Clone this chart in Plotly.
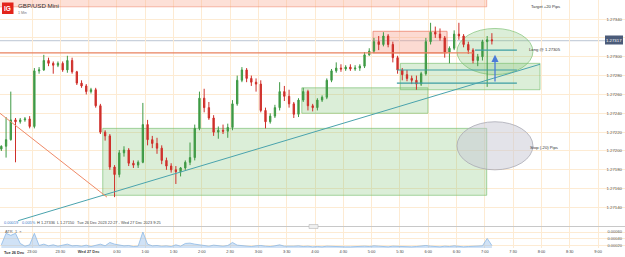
import pandas as pd
import plotly.graph_objects as go

# ---------------- data (5-minute bins) ----------------
bin_start = pd.date_range("2023-12-26 22:25", periods=105, freq="5min")

open_ = [1.27202, 1.27205, 1.27212, 1.27233, 1.27231, 1.27233, 1.27234, 1.27226, 1.27285, 1.27286,
         1.27296, 1.27293, 1.27291, 1.27293, 1.27286, 1.27296, 1.27284, 1.27272, 1.27269, 1.27263,
         1.27265, 1.27248, 1.27220, 1.27216, 1.27183, 1.27175, 1.27198, 1.27201, 1.27187, 1.27185,
         1.27188, 1.27228, 1.27212, 1.27208, 1.27203, 1.27190, 1.27184, 1.27180, 1.27178, 1.27182,
         1.27188, 1.27193, 1.27224, 1.27256, 1.27246, 1.27235, 1.27220, 1.27222, 1.27221, 1.27225,
         1.27250, 1.27275, 1.27286, 1.27277, 1.27273, 1.27271, 1.27243, 1.27231, 1.27237, 1.27246,
         1.27263, 1.27258, 1.27250, 1.27239, 1.27254, 1.27263, 1.27248, 1.27246, 1.27254, 1.27257,
         1.27275, 1.27285, 1.27288, 1.27287, 1.27289, 1.27287, 1.27288, 1.27290, 1.27302, 1.27306,
         1.27316, 1.27313, 1.27322, 1.27313, 1.27299, 1.27286, 1.27281, 1.27277, 1.27275, 1.27271,
         1.27282, 1.27316, 1.27326, 1.27324, 1.27320, 1.27305, 1.27309, 1.27324, 1.27322, 1.27313,
         1.27307, 1.27296, 1.27300, 1.27316, 1.27318]
high = [1.27206, 1.27236, 1.27263, 1.27235, 1.27235, 1.27236, 1.27237, 1.27288, 1.27289, 1.27302,
        1.27299, 1.27295, 1.27295, 1.27295, 1.27301, 1.27299, 1.27285, 1.27275, 1.27271, 1.27267,
        1.27267, 1.27250, 1.27222, 1.27218, 1.27185, 1.27201, 1.27205, 1.27203, 1.27190, 1.27190,
        1.27251, 1.27233, 1.27216, 1.27214, 1.27206, 1.27193, 1.27187, 1.27184, 1.27183, 1.27190,
        1.27209, 1.27228, 1.27263, 1.27266, 1.27252, 1.27238, 1.27226, 1.27228, 1.27229, 1.27254,
        1.27280, 1.27289, 1.27288, 1.27280, 1.27277, 1.27275, 1.27246, 1.27240, 1.27249, 1.27273,
        1.27269, 1.27265, 1.27252, 1.27256, 1.27267, 1.27265, 1.27250, 1.27256, 1.27259, 1.27277,
        1.27287, 1.27294, 1.27292, 1.27291, 1.27292, 1.27291, 1.27292, 1.27305, 1.27309, 1.27320,
        1.27322, 1.27326, 1.27324, 1.27316, 1.27301, 1.27288, 1.27286, 1.27280, 1.27280, 1.27284,
        1.27320, 1.27336, 1.27332, 1.27330, 1.27322, 1.27311, 1.27328, 1.27336, 1.27324, 1.27316,
        1.27309, 1.27303, 1.27318, 1.27322, 1.27325]
low = [1.27200, 1.27193, 1.27211, 1.27188, 1.27229, 1.27231, 1.27224, 1.27224, 1.27282, 1.27285,
       1.27290, 1.27282, 1.27289, 1.27284, 1.27283, 1.27282, 1.27270, 1.27267, 1.27260, 1.27261,
       1.27246, 1.27218, 1.27211, 1.27180, 1.27151, 1.27172, 1.27194, 1.27184, 1.27182, 1.27182,
       1.27187, 1.27206, 1.27203, 1.27197, 1.27186, 1.27180, 1.27177, 1.27165, 1.27173, 1.27180,
       1.27185, 1.27190, 1.27222, 1.27241, 1.27233, 1.27216, 1.27213, 1.27218, 1.27214, 1.27222,
       1.27248, 1.27273, 1.27273, 1.27269, 1.27263, 1.27241, 1.27224, 1.27229, 1.27235, 1.27243,
       1.27253, 1.27246, 1.27235, 1.27236, 1.27252, 1.27243, 1.27242, 1.27243, 1.27252, 1.27255,
       1.27273, 1.27283, 1.27284, 1.27285, 1.27285, 1.27285, 1.27285, 1.27288, 1.27301, 1.27304,
       1.27307, 1.27311, 1.27310, 1.27294, 1.27282, 1.27275, 1.27274, 1.27271, 1.27265, 1.27269,
       1.27280, 1.27313, 1.27320, 1.27317, 1.27299, 1.27293, 1.27307, 1.27318, 1.27310, 1.27303,
       1.27293, 1.27290, 1.27296, 1.27268, 1.27313]
close = [1.27205, 1.27212, 1.27233, 1.27231, 1.27233, 1.27234, 1.27226, 1.27285, 1.27286, 1.27296,
         1.27293, 1.27291, 1.27293, 1.27286, 1.27296, 1.27284, 1.27272, 1.27269, 1.27263, 1.27265,
         1.27248, 1.27220, 1.27216, 1.27183, 1.27175, 1.27198, 1.27201, 1.27187, 1.27185, 1.27188,
         1.27228, 1.27212, 1.27208, 1.27203, 1.27190, 1.27184, 1.27180, 1.27178, 1.27182, 1.27188,
         1.27193, 1.27224, 1.27256, 1.27246, 1.27235, 1.27220, 1.27222, 1.27221, 1.27225, 1.27250,
         1.27275, 1.27286, 1.27277, 1.27273, 1.27271, 1.27243, 1.27231, 1.27237, 1.27246, 1.27263,
         1.27258, 1.27250, 1.27239, 1.27254, 1.27263, 1.27248, 1.27246, 1.27254, 1.27257, 1.27275,
         1.27285, 1.27288, 1.27287, 1.27289, 1.27287, 1.27288, 1.27290, 1.27302, 1.27306, 1.27316,
         1.27313, 1.27322, 1.27313, 1.27299, 1.27286, 1.27281, 1.27277, 1.27275, 1.27271, 1.27282,
         1.27316, 1.27326, 1.27324, 1.27320, 1.27305, 1.27309, 1.27324, 1.27322, 1.27313, 1.27307,
         1.27296, 1.27300, 1.27316, 1.27318, 1.27317]
atr = [0.00022, 0.00056, 0.00050, 0.00056, 0.00026, 0.00018, 0.00022, 0.00056, 0.00020, 0.00024,
       0.00019, 0.00022, 0.00018, 0.00020, 0.00024, 0.00019, 0.00020, 0.00018, 0.00021, 0.00017,
       0.00020, 0.00024, 0.00019, 0.00029, 0.00024, 0.00021, 0.00019, 0.00020, 0.00017, 0.00018,
       0.00060, 0.00024, 0.00019, 0.00020, 0.00018, 0.00019, 0.00017, 0.00022, 0.00018, 0.00026,
       0.00027, 0.00024, 0.00022, 0.00020, 0.00018, 0.00021, 0.00019, 0.00018, 0.00020, 0.00029,
       0.00021, 0.00019, 0.00018, 0.00017, 0.00019, 0.00020, 0.00018, 0.00017, 0.00019, 0.00022,
       0.00018, 0.00017, 0.00018, 0.00019, 0.00017, 0.00018, 0.00016, 0.00017, 0.00016, 0.00018,
       0.00017, 0.00016, 0.00017, 0.00016, 0.00016, 0.00017, 0.00016, 0.00018, 0.00017, 0.00019,
       0.00018, 0.00017, 0.00016, 0.00018, 0.00017, 0.00016, 0.00017, 0.00016, 0.00017, 0.00019,
       0.00020, 0.00018, 0.00017, 0.00016, 0.00018, 0.00017, 0.00019, 0.00017, 0.00016, 0.00017,
       0.00018, 0.00017, 0.00019, 0.00041, 0.00020]

time_ticks = pd.date_range("2023-12-26 23:00", "2023-12-27 09:00", freq="30min")
time_labels = ["23:00", "23:30", "<b>Wed 27 Dec</b>", "0:30", "1:00", "1:30", "2:00", "2:30",
               "3:00", "3:30", "4:00", "4:30", "5:00", "5:30", "6:00", "6:30", "7:00",
               "7:30", "8:00", "8:30", "9:00"]
price_ticks = [1.27140, 1.27160, 1.27180, 1.27200, 1.27220, 1.27240,
               1.27260, 1.27280, 1.27300, 1.27320, 1.27340]
price_labels = ["1.27140", "1.27160", "1.27180", "1.27200", "1.27220", "1.27240",
                "1.27260", "1.27280", "1.27300", "", "1.27340"]
atr_ticks = [0.0002, 0.0004, 0.0006]
atr_labels = ["0.00020", "0.00040", "0.00060"]
last_price = 1.27317

times = bin_start + pd.Timedelta(seconds=150)

W, H = 625, 257
FONT = "Liberation Sans, Arial, sans-serif"
GRID = "#fdebd3"


def px(x):
    return x / W


def py(y):
    return 1 - y / H


fig = go.Figure()
fig.add_trace(go.Candlestick(
    x=times, open=open_, high=high, low=low, close=close,
    increasing=dict(line=dict(color="#3f9a45", width=1), fillcolor="#3f9a45"),
    decreasing=dict(line=dict(color="#cf2f2a", width=1), fillcolor="#cf2f2a"),
    whiskerwidth=0, xaxis="x", yaxis="y", showlegend=False, hoverinfo="skip"))
fig.add_trace(go.Scatter(
    x=times, y=atr, mode="lines", fill="tozeroy",
    line=dict(color="#8db9e6", width=0.8), fillcolor="rgba(150,190,235,0.45)",
    xaxis="x2", yaxis="y2", showlegend=False, hoverinfo="skip"))

t0 = "2023-12-26 22:26:04"
t1 = "2023-12-27 09:28:36"

shapes = []
GFILL = "rgba(125,195,115,0.28)"
GLINE = "rgba(120,190,110,0.65)"
shapes.append(dict(type="rect", xref="x", yref="y", x0="2023-12-26 22:20", x1="2023-12-27 07:02",
                   y0=1.27353, y1=1.27380, fillcolor="rgba(248,165,140,0.35)",
                   line=dict(color="rgba(240,140,115,0.6)", width=1), layer="between"))
shapes.append(dict(type="rect", xref="x", yref="y", x0="2023-12-27 05:01:30", x1="2023-12-27 06:20",
                   y0=1.27304, y1=1.27327, fillcolor="rgba(245,150,125,0.35)",
                   line=dict(color="rgba(235,120,95,0.7)", width=1), layer="between"))
for (a, b, lo, hi) in [("2023-12-27 00:15", "2023-12-27 07:02", 1.27153, 1.27224),
                       ("2023-12-27 03:46", "2023-12-27 05:59:40", 1.27240, 1.27267),
                       ("2023-12-27 05:30:30", "2023-12-27 07:58:30", 1.27265, 1.27293)]:
    shapes.append(dict(type="rect", xref="x", yref="y", x0=a, x1=b, y0=lo, y1=hi,
                       fillcolor=GFILL, line=dict(color=GLINE, width=1), layer="between"))
shapes.append(dict(type="circle", xref="x", yref="y", x0="2023-12-27 06:30:30", x1="2023-12-27 07:51",
                   y0=1.27281, y1=1.27330, fillcolor=GFILL, line=dict(color=GLINE, width=1),
                   layer="between"))
shapes.append(dict(type="circle", xref="x", yref="y", x0="2023-12-27 06:30:30", x1="2023-12-27 07:51",
                   y0=1.27180, y1=1.27231, fillcolor="rgba(200,200,212,0.5)",
                   line=dict(color="rgba(170,170,180,0.8)", width=1), layer="between"))
shapes.append(dict(type="line", xref="x", yref="paper", x0="2023-12-27 00:00", x1="2023-12-27 00:00",
                   y0=py(248), y1=1, line=dict(color="#f7c68e", width=1), layer="between"))
shapes.append(dict(type="line", xref="paper", yref="y", x0=0, x1=px(606), y0=last_price, y1=last_price,
                   line=dict(color="#bcc6d3", width=1), layer="between"))
shapes.append(dict(type="line", xref="x", yref="y", x0="2023-12-26 22:20", x1="2023-12-27 06:47:30",
                   y0=1.27304, y1=1.27304, line=dict(color="#e9825f", width=1.3)))
TEAL = "#3d9ea3"
for (a, yv) in [("2023-12-27 06:49:36", 1.27307), ("2023-12-27 05:26:48", 1.27286),
                ("2023-12-27 05:26:48", 1.27272)]:
    shapes.append(dict(type="line", xref="x", yref="y", x0=a, x1="2023-12-27 07:34",
                       y0=yv, y1=yv, line=dict(color=TEAL, width=1.1)))
shapes.append(dict(type="line", xref="x", yref="y", x0="2023-12-26 22:45:12", y0=1.27126,
                   x1="2023-12-27 07:58:30", y1=1.27292, line=dict(color="#4aa3ad", width=1)))
shapes.append(dict(type="line", xref="x", yref="y", x0="2023-12-26 22:26", y0=1.27240,
                   x1="2023-12-27 00:19:30", y1=1.27151, line=dict(color="#ef8a68", width=1)))
shapes.append(dict(type="line", xref="paper", yref="paper", x0=0, x1=1, y0=py(226.5), y1=py(226.5),
                   line=dict(color="#c8c8c8", width=1)))
shapes.append(dict(type="rect", xref="paper", yref="paper", x0=px(309), x1=px(318),
                   y0=py(228.5), y1=py(224.5), fillcolor="#eeeeee", line=dict(color="#b8b8b8", width=0.6)))
shapes.append(dict(type="rect", xref="paper", yref="paper", x0=px(605), x1=px(623),
                   y0=py(44.5), y1=py(35.5), fillcolor="#4b5b79", line=dict(width=0)))
shapes.append(dict(type="rect", xref="paper", yref="paper", x0=px(2), x1=px(13.5),
                   y0=py(14), y1=py(2.5), fillcolor="#e3241b", line=dict(width=0)))

ann = []


def txt(x, y, s, size=4.2, color="#333", anchor="left", bold=False):
    ann.append(dict(xref="paper", yref="paper", x=px(x), y=py(y), text=("<b>%s</b>" % s) if bold else s,
                    showarrow=False, xanchor=anchor, yanchor="middle",
                    font=dict(family=FONT, size=size, color=color)))


txt(7.8, 8.5, "IG", size=6.5, color="white", anchor="center", bold=True)
txt(15.5, 5.5, "GBP/USD Mini", size=6.2, color="#333")
txt(15.5, 12.5, "1 Min", size=3.6, color="#777")
txt(529, 6, "Target +20 Pips", size=4.2, color="#333")
txt(527, 50, "Long @ 1.27305", size=4.2, color="#333")
txt(528, 147.5, "Stop (-20) Pips", size=4.2, color="#333")
txt(614, 40, "1.27317", size=4.3, color="white", anchor="center")
txt(1.5, 222.5, "0.00019", size=3.9, color="#3b78c9")
txt(19.5, 222.5, "0.005%", size=3.9, color="#3b78c9")
txt(34.5, 222.5, "H 1.27336", size=3.9, color="#444")
txt(55, 222.5, "L 1.27150", size=3.9, color="#444")
txt(75, 222.5, "Tue 26 Dec 2023 22:27 - Wed 27 Dec 2023 9:25", size=3.9, color="#444")
txt(2.5, 231.5, "ATR  1  ×", size=4, color="#666")
txt(2, 252.5, "<b>Tue 26 Dec</b>", size=3.9, color="#333")

ann.append(dict(xref="x", yref="y", x="2023-12-27 07:10:48", y=1.27302,
                axref="x", ayref="y", ax="2023-12-27 07:10:48", ay=1.27272,
                text="", showarrow=True, arrowhead=2, arrowsize=1.1,
                arrowwidth=1.3, arrowcolor="#4a7bd8"))

fig.update_layout(
    width=W, height=H, margin=dict(l=0, r=0, t=0, b=0),
    paper_bgcolor="white", plot_bgcolor="white",
    font=dict(family=FONT, size=4, color="#444"),
    showlegend=False, shapes=shapes, annotations=ann, boxgap=0.6,
    xaxis=dict(domain=[0, 1], range=[t0, t1], anchor="y", type="date",
               tickvals=time_ticks, ticktext=time_labels, showticklabels=False,
               showgrid=True, gridcolor=GRID, gridwidth=1, zeroline=False, showline=False,
               rangeslider=dict(visible=False), ticks=""),
    yaxis=dict(domain=[py(226), 1], range=[1.271204, 1.273602], anchor="x", side="right",
               tickvals=price_ticks, ticktext=price_labels, ticklabelposition="inside",
               tickfont=dict(size=4.3, color="#555"), showgrid=True, gridcolor=GRID,
               zeroline=False, showline=False, ticks=""),
    xaxis2=dict(domain=[0, 1], range=[t0, t1], anchor="y2", type="date", matches="x",
                tickvals=time_ticks, ticktext=time_labels, showticklabels=True,
                tickfont=dict(size=3.9, color="#444"),
                showgrid=True, gridcolor=GRID, zeroline=False, showline=False, ticks=""),
    yaxis2=dict(domain=[py(248), py(227)], range=[0.000126, 0.000748], anchor="x2", side="right",
                tickvals=atr_ticks, ticktext=atr_labels, ticklabelposition="inside",
                tickfont=dict(size=4, color="#555"), showgrid=True, gridcolor=GRID,
                zeroline=False, showline=False, ticks=""),
)

fig.write_html("out.html")
